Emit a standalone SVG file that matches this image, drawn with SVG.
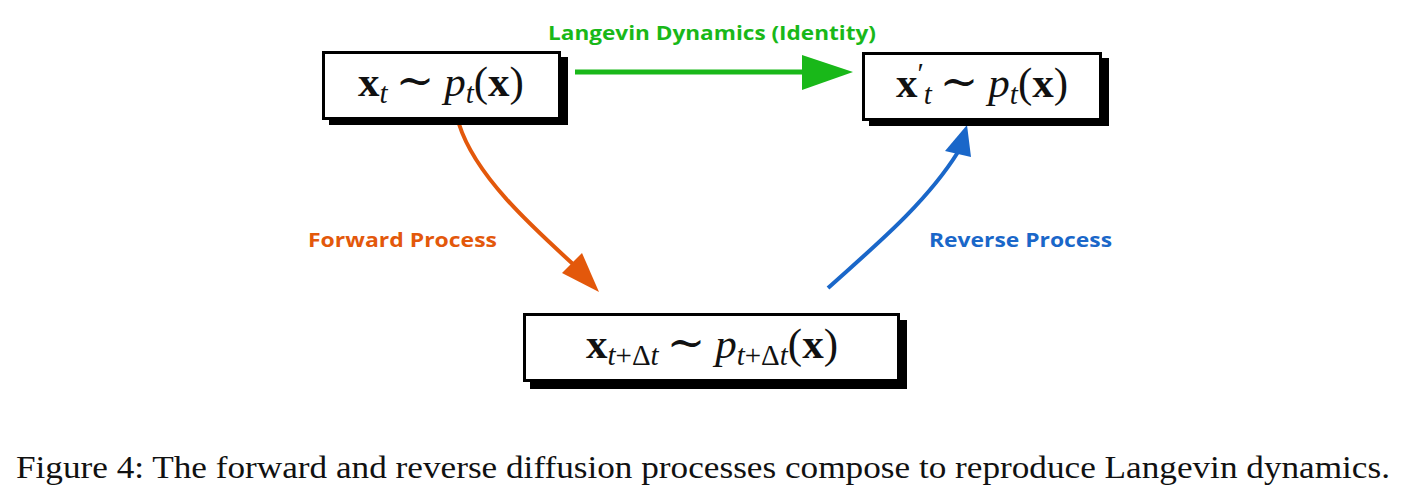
<svg xmlns="http://www.w3.org/2000/svg" width="1417" height="502" viewBox="0 0 1417 502">
<style>
.shadow{fill:#000}
.box{fill:#fff;stroke:#000;stroke-width:3}
.math{font-family:"Liberation Serif","DejaVu Serif",serif;font-size:43px;fill:#111}
.b{font-weight:bold;font-style:normal}
.i{font-style:italic}
.sub{font-size:29px;font-style:italic}
.up{font-style:normal}
.tl{font-weight:normal;font-family:"DejaVu Serif","Liberation Serif",serif;font-size:46px}
.lbl{font-family:"Open Sans","Noto Sans",sans-serif;font-weight:bold;font-size:20px}
.cap{font-family:"Liberation Serif","DejaVu Serif",serif;font-size:31px;fill:#111}
</style>
<rect width="1417" height="502" fill="#fff"/>
<g id="connectors">
  <g id="langevin">
    <line x1="575" y1="72" x2="804" y2="72" stroke="#19b819" stroke-width="5"/>
    <polygon points="802,55 853,72 802,90" fill="#19b819"/>
  </g>
  <g id="forward">
    <path d="M459,124 C475,175 530,225 574,265" fill="none" stroke="#e3580b" stroke-width="4"/>
    <polygon points="562,273 599,292 582,253" fill="#e3580b"/>
  </g>
  <g id="reverse">
    <path d="M828,288 C870,250 925,205 958,152" fill="none" stroke="#1a67c9" stroke-width="4"/>
    <polygon points="945,151 967,125 971,157" fill="#1a67c9"/>
  </g>
</g>
<g id="labels">
  <text class="lbl" x="712" y="40" text-anchor="middle" fill="#19b819" textLength="328" lengthAdjust="spacingAndGlyphs">Langevin Dynamics (Identity)</text>
  <text class="lbl" x="308" y="247" fill="#e3580b" textLength="189" lengthAdjust="spacingAndGlyphs">Forward Process</text>
  <text class="lbl" x="929" y="247" fill="#1a67c9" textLength="183" lengthAdjust="spacingAndGlyphs">Reverse Process</text>
</g>
<g id="node-xt">
  <rect class="shadow" x="329" y="57" width="239" height="68"/>
  <rect class="box" x="323.5" y="52.5" width="236" height="66"/>
  <text class="math" x="441" y="96" text-anchor="middle"><tspan class="b">x</tspan><tspan class="sub" dy="7">t</tspan><tspan class="tl" dy="-7" dx="8">∼</tspan><tspan class="i" dx="10">p</tspan><tspan class="sub" dy="7">t</tspan><tspan dy="-7">(</tspan><tspan class="b">x</tspan><tspan>)</tspan></text>
</g>
<g id="node-xt-prime">
  <rect class="shadow" x="869" y="58" width="240" height="68"/>
  <rect class="box" x="863.5" y="53.5" width="237" height="66"/>
  <text class="math" x="982" y="97" text-anchor="middle"><tspan class="b">x</tspan><tspan class="sub up" dy="-14">′</tspan><tspan class="sub" dy="21">t</tspan><tspan class="tl" dy="-7" dx="8">∼</tspan><tspan class="i" dx="10">p</tspan><tspan class="sub" dy="7">t</tspan><tspan dy="-7">(</tspan><tspan class="b">x</tspan><tspan>)</tspan></text>
</g>
<g id="node-xtdt">
  <rect class="shadow" x="530" y="320" width="377" height="69"/>
  <rect class="box" x="524.5" y="314.5" width="374" height="66"/>
  <text class="math" x="712" y="358" text-anchor="middle"><tspan class="b">x</tspan><tspan class="sub" dy="7">t</tspan><tspan class="sub up">+Δ</tspan><tspan class="sub">t</tspan><tspan class="tl" dy="-7" dx="8">∼</tspan><tspan class="i" dx="10">p</tspan><tspan class="sub" dy="7">t</tspan><tspan class="sub up">+Δ</tspan><tspan class="sub">t</tspan><tspan dy="-7">(</tspan><tspan class="b">x</tspan><tspan>)</tspan></text>
</g>
<text class="cap" x="16" y="478" textLength="1374" lengthAdjust="spacingAndGlyphs">Figure 4: The forward and reverse diffusion processes compose to reproduce Langevin dynamics.</text>
</svg>
